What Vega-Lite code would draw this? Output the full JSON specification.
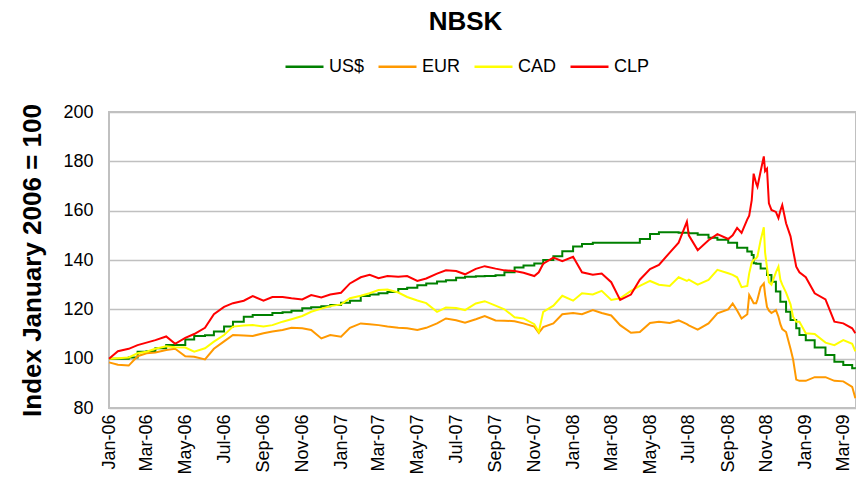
{
  "$schema": "https://vega.github.io/schema/vega-lite/v6.json",
  "width": 747,
  "height": 296,
  "autosize": {"type": "none"},
  "padding": {"left": 109, "top": 112, "right": 0, "bottom": 83},
  "background": "white",
  "title": {"text": "NBSK", "font": "Liberation Sans", "fontSize": 26, "fontWeight": "bold", "color": "black", "anchor": "middle", "frame": "group", "dx": -17, "dy": 34, "offset": 24, "baseline": "alphabetic"},
  "config": {"view": {"stroke": "#c0c0c0", "strokeWidth": 2}},
  "data": {
    "format": {"parse": {"d": "date:'%Y-%m-%d'"}},
    "values": [
      {"d": "2006-01-01", "US$": 100, "EUR": 98.5, "CAD": 100, "CLP": 100},
      {"d": "2006-01-15", "US$": 100, "EUR": 97.5, "CAD": 100.2, "CLP": 103},
      {"d": "2006-02-01", "US$": 100.5, "EUR": 97.2, "CAD": 100.5, "CLP": 104},
      {"d": "2006-02-15", "US$": 102.8, "EUR": 101, "CAD": 102.2, "CLP": 105.5},
      {"d": "2006-03-01", "US$": 103, "EUR": 102.2, "CAD": 102.8, "CLP": 106.5},
      {"d": "2006-03-15", "US$": 104.2, "EUR": 102.5, "CAD": 104, "CLP": 107.5},
      {"d": "2006-04-01", "US$": 105.5, "EUR": 103.5, "CAD": 105, "CLP": 109},
      {"d": "2006-04-15", "US$": 105.5, "EUR": 104, "CAD": 104.6, "CLP": 106},
      {"d": "2006-05-01", "US$": 107.8, "EUR": 101, "CAD": 104.5, "CLP": 108.4},
      {"d": "2006-05-15", "US$": 109.2, "EUR": 100.8, "CAD": 102.8, "CLP": 110},
      {"d": "2006-06-01", "US$": 109.5, "EUR": 99.7, "CAD": 104.2, "CLP": 112.5},
      {"d": "2006-06-15", "US$": 111, "EUR": 104, "CAD": 106.9, "CLP": 118},
      {"d": "2006-07-01", "US$": 113, "EUR": 107, "CAD": 109.6, "CLP": 121},
      {"d": "2006-07-15", "US$": 115, "EUR": 109.6, "CAD": 113, "CLP": 122.5},
      {"d": "2006-08-01", "US$": 117, "EUR": 109.4, "CAD": 113.4, "CLP": 123.5},
      {"d": "2006-08-15", "US$": 117.7, "EUR": 109.2, "CAD": 113.6, "CLP": 125.4},
      {"d": "2006-09-01", "US$": 117.7, "EUR": 110.3, "CAD": 113, "CLP": 123.5},
      {"d": "2006-09-15", "US$": 118.5, "EUR": 111, "CAD": 113.6, "CLP": 125},
      {"d": "2006-10-01", "US$": 118.8, "EUR": 111.6, "CAD": 115, "CLP": 125},
      {"d": "2006-10-15", "US$": 119.4, "EUR": 112.5, "CAD": 116, "CLP": 124.5},
      {"d": "2006-11-01", "US$": 120.4, "EUR": 112.3, "CAD": 117.3, "CLP": 124},
      {"d": "2006-11-15", "US$": 120.8, "EUR": 111.6, "CAD": 119, "CLP": 125.8},
      {"d": "2006-12-01", "US$": 121.3, "EUR": 108.2, "CAD": 120.3, "CLP": 124.8},
      {"d": "2006-12-15", "US$": 121.8, "EUR": 109.6, "CAD": 121.3, "CLP": 126},
      {"d": "2007-01-01", "US$": 122.7, "EUR": 108.9, "CAD": 122, "CLP": 126.7},
      {"d": "2007-01-15", "US$": 123.5, "EUR": 112.5, "CAD": 124.5, "CLP": 130.5},
      {"d": "2007-02-01", "US$": 125.4, "EUR": 114.3, "CAD": 125.5, "CLP": 133},
      {"d": "2007-02-15", "US$": 126, "EUR": 114, "CAD": 126.5, "CLP": 134},
      {"d": "2007-03-01", "US$": 126.5, "EUR": 113.6, "CAD": 127.8, "CLP": 132.6},
      {"d": "2007-03-15", "US$": 127, "EUR": 113, "CAD": 128, "CLP": 133.5},
      {"d": "2007-04-01", "US$": 128.2, "EUR": 112.5, "CAD": 126.8, "CLP": 133.2},
      {"d": "2007-04-15", "US$": 128.8, "EUR": 112.3, "CAD": 125, "CLP": 133.5},
      {"d": "2007-05-01", "US$": 129.8, "EUR": 111.6, "CAD": 123.6, "CLP": 131.5},
      {"d": "2007-05-15", "US$": 130.5, "EUR": 112.5, "CAD": 122.5, "CLP": 132.5},
      {"d": "2007-06-01", "US$": 131.3, "EUR": 114.3, "CAD": 119, "CLP": 134.5},
      {"d": "2007-06-15", "US$": 131.8, "EUR": 116.3, "CAD": 120.7, "CLP": 135.8},
      {"d": "2007-07-01", "US$": 132.8, "EUR": 115.6, "CAD": 120.5, "CLP": 135.5},
      {"d": "2007-07-15", "US$": 133.2, "EUR": 114.6, "CAD": 119.7, "CLP": 134.2},
      {"d": "2007-08-01", "US$": 133.4, "EUR": 116, "CAD": 122.4, "CLP": 136.4},
      {"d": "2007-08-15", "US$": 133.5, "EUR": 117.3, "CAD": 123.3, "CLP": 137.5},
      {"d": "2007-09-01", "US$": 133.8, "EUR": 115.5, "CAD": 121.5, "CLP": 136.5},
      {"d": "2007-09-15", "US$": 135, "EUR": 115.4, "CAD": 120, "CLP": 135.8},
      {"d": "2007-10-01", "US$": 137, "EUR": 115.2, "CAD": 116.8, "CLP": 135.5},
      {"d": "2007-10-15", "US$": 137.8, "EUR": 114.3, "CAD": 116.3, "CLP": 134.8},
      {"d": "2007-11-01", "US$": 138.6, "EUR": 113, "CAD": 114, "CLP": 133.5},
      {"d": "2007-11-08", "EUR": 110.5, "CAD": 110.8, "CLP": 135},
      {"d": "2007-11-15", "US$": 140, "EUR": 112.8, "CAD": 119, "CLP": 138.5},
      {"d": "2007-12-01", "US$": 141.5, "EUR": 114.3, "CAD": 121.5, "CLP": 141},
      {"d": "2007-12-15", "US$": 143.5, "EUR": 118, "CAD": 125.5, "CLP": 139.5},
      {"d": "2008-01-01", "US$": 145.5, "EUR": 118.5, "CAD": 123.5, "CLP": 141.3},
      {"d": "2008-01-15", "US$": 146.5, "EUR": 118, "CAD": 126.5, "CLP": 135},
      {"d": "2008-02-01", "US$": 147, "EUR": 119.7, "CAD": 126, "CLP": 134},
      {"d": "2008-02-15", "US$": 147, "EUR": 118.5, "CAD": 127.5, "CLP": 134.5},
      {"d": "2008-03-01", "US$": 147, "EUR": 117.5, "CAD": 123.8, "CLP": 131},
      {"d": "2008-03-15", "US$": 147, "EUR": 113.6, "CAD": 124.5, "CLP": 123.8},
      {"d": "2008-04-01", "US$": 147, "EUR": 110.5, "CAD": 127.5, "CLP": 126},
      {"d": "2008-04-15", "US$": 148.5, "EUR": 110.8, "CAD": 129.5, "CLP": 132},
      {"d": "2008-05-01", "US$": 150.5, "EUR": 114.5, "CAD": 131.5, "CLP": 136.3},
      {"d": "2008-05-15", "US$": 151.2, "EUR": 115, "CAD": 130, "CLP": 138},
      {"d": "2008-06-01", "US$": 151.2, "EUR": 114.5, "CAD": 129.5, "CLP": 143},
      {"d": "2008-06-15", "US$": 151, "EUR": 115.5, "CAD": 133, "CLP": 147},
      {"d": "2008-06-28", "EUR": 114, "CAD": 131.5, "CLP": 155.5},
      {"d": "2008-07-01", "US$": 150.8, "EUR": 113.5, "CAD": 132, "CLP": 150},
      {"d": "2008-07-15", "US$": 150.2, "EUR": 111.8, "CAD": 130, "CLP": 144},
      {"d": "2008-08-01", "US$": 149, "EUR": 114.3, "CAD": 131.9, "CLP": 148},
      {"d": "2008-08-15", "US$": 148.2, "EUR": 118.4, "CAD": 136, "CLP": 150.5},
      {"d": "2008-09-01", "US$": 147, "EUR": 120, "CAD": 134.6, "CLP": 148.5},
      {"d": "2008-09-08", "EUR": 122.4, "CAD": 134, "CLP": 150},
      {"d": "2008-09-15", "US$": 145, "EUR": 119.5, "CAD": 133, "CLP": 153},
      {"d": "2008-09-22", "EUR": 116.3, "CAD": 129, "CLP": 151},
      {"d": "2008-10-01", "US$": 143.4, "EUR": 118, "CAD": 129.5, "CLP": 156.5},
      {"d": "2008-10-04", "EUR": 125.8, "CAD": 134.6, "CLP": 158},
      {"d": "2008-10-08", "US$": 142, "EUR": 124, "CAD": 139, "CLP": 164.3},
      {"d": "2008-10-11", "US$": 138.7, "EUR": 122.5, "CAD": 140, "CLP": 175},
      {"d": "2008-10-15", "US$": 138.5, "EUR": 122.5, "CAD": 140.7, "CLP": 171},
      {"d": "2008-10-17", "EUR": 124, "CAD": 141.5, "CLP": 169.7},
      {"d": "2008-10-22", "US$": 136.6, "EUR": 129, "CAD": 148, "CLP": 176},
      {"d": "2008-10-27", "EUR": 130.5, "CAD": 153.3, "CLP": 182},
      {"d": "2008-10-29", "EUR": 126, "CAD": 143, "CLP": 176},
      {"d": "2008-11-01", "US$": 133.9, "EUR": 121, "CAD": 137, "CLP": 177},
      {"d": "2008-11-04", "EUR": 119.5, "CAD": 131, "CLP": 163},
      {"d": "2008-11-08", "US$": 131.2, "EUR": 118.5, "CAD": 130, "CLP": 160.3},
      {"d": "2008-11-15", "US$": 127.2, "EUR": 119.7, "CAD": 135, "CLP": 159.5},
      {"d": "2008-11-19", "EUR": 117, "CAD": 137.3, "CLP": 157},
      {"d": "2008-11-22", "US$": 123.1, "EUR": 114, "CAD": 132, "CLP": 160},
      {"d": "2008-11-25", "EUR": 112, "CAD": 130, "CLP": 162.3},
      {"d": "2008-12-01", "US$": 119, "EUR": 110.8, "CAD": 126.8, "CLP": 154.9},
      {"d": "2008-12-08", "US$": 115.7, "EUR": 104, "CAD": 122, "CLP": 149.6},
      {"d": "2008-12-12", "EUR": 99.8, "CAD": 117, "CLP": 144},
      {"d": "2008-12-17", "US$": 112.3, "EUR": 91.5, "CAD": 115, "CLP": 137.3},
      {"d": "2008-12-22", "US$": 109.6, "EUR": 91, "CAD": 115, "CLP": 135},
      {"d": "2009-01-01", "US$": 107.5, "EUR": 91, "CAD": 110.3, "CLP": 133},
      {"d": "2009-01-15", "US$": 104.5, "EUR": 92.5, "CAD": 110, "CLP": 126.5},
      {"d": "2009-02-01", "US$": 101.5, "EUR": 92.5, "CAD": 106.5, "CLP": 124},
      {"d": "2009-02-15", "US$": 98.8, "EUR": 91, "CAD": 105.5, "CLP": 115},
      {"d": "2009-03-01", "US$": 97.4, "EUR": 90.8, "CAD": 107.5, "CLP": 114.3},
      {"d": "2009-03-15", "US$": 96.1, "EUR": 88.6, "CAD": 106, "CLP": 112.3},
      {"d": "2009-03-20", "US$": 95.9, "EUR": 84, "CAD": 103, "CLP": 110.3}
    ]
  },
  "transform": [
    {"fold": ["US$", "EUR", "CAD", "CLP"], "as": ["s", "v"]},
    {"filter": "isValid(datum.v)"}
  ],
  "encoding": {
    "x": {
      "field": "d", "type": "temporal",
      "scale": {"domain": [{"year": 2006, "month": 1, "date": 1}, {"year": 2009, "month": 3, "date": 21}]},
      "axis": {"title": null, "tickCount": {"interval": "month", "step": 2}, "format": "%b-%y", "labelAngle": 270, "labelFont": "Liberation Sans", "labelFontSize": 18, "labelColor": "black", "labelPadding": 6, "ticks": false, "domain": false, "grid": false, "labelOverlap": false, "labelFlush": false, "labelBound": false}
    },
    "y": {
      "field": "v", "type": "quantitative",
      "scale": {"domain": [80, 200], "nice": false, "zero": false},
      "axis": {"title": "Index January 2006 = 100", "values": [80, 100, 120, 140, 160, 180, 200], "labelFont": "Liberation Sans", "labelFontSize": 18, "labelColor": "black", "labelPadding": 16, "ticks": false, "domain": false, "grid": true, "gridColor": "#c0c0c0", "gridWidth": 1.5, "titleFont": "Liberation Sans", "titleFontSize": 26, "titleFontWeight": "bold", "titleColor": "black", "titleX": -77, "titleY": 148, "titleAngle": 270, "titleBaseline": "middle", "titleAlign": "center"}
    },
    "color": {
      "field": "s", "type": "nominal",
      "scale": {"domain": ["US$", "EUR", "CAD", "CLP"], "range": ["#008000", "#FF9900", "#FFFF00", "#FF0000"]},
      "legend": {"orient": "none", "legendX": 175, "legendY": -66, "direction": "horizontal", "title": null, "symbolType": "stroke", "symbolSize": 1444, "symbolStrokeWidth": 2.5, "labelFont": "Liberation Sans", "labelFontSize": 18, "labelColor": "black", "labelOffset": 4, "columnPadding": 8}
    }
  },
  "layer": [
    {"transform": [{"filter": "datum.s == 'US$'"}], "mark": {"type": "line", "interpolate": "step-after", "strokeWidth": 2}},
    {"transform": [{"filter": "datum.s != 'US$'"}], "mark": {"type": "line", "strokeWidth": 2}}
  ]
}
